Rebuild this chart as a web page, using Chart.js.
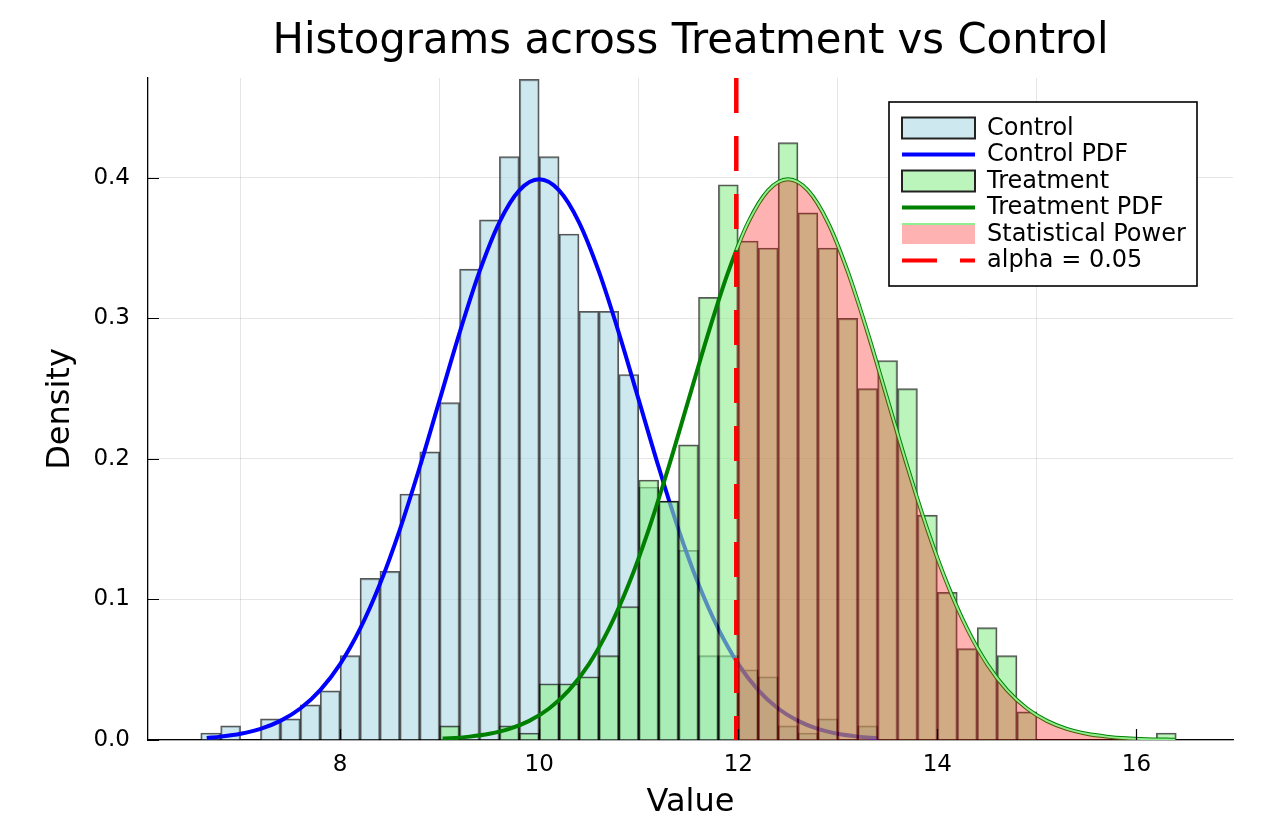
<!DOCTYPE html>
<html>
<head>
<meta charset="utf-8">
<script src="https://cdn.jsdelivr.net/npm/chart.js@4.4.1/dist/chart.umd.min.js"></script>
<style>
  html, body { margin: 0; padding: 0; background: #fff; }
  #wrap { width: 1270px; height: 834px; }
</style>
</head>
<body>
<div id="wrap"><canvas id="c" width="1270" height="834"></canvas></div>
<script>
// ---- data ----
const controlBinCenters = [6.7, 6.9, 7.1, 7.3, 7.5, 7.7, 7.9, 8.1, 8.3, 8.5, 8.7, 8.9, 9.1, 9.3, 9.5, 9.7, 9.9,
  10.1, 10.3, 10.5, 10.7, 10.9, 11.1, 11.3, 11.5, 11.7, 11.9, 12.1, 12.3, 12.5, 12.7, 12.9, 13.1, 13.3];
const controlDensity = [0.005, 0.01, 0, 0.015, 0.015, 0.025, 0.035, 0.06, 0.115, 0.12, 0.175, 0.205, 0.24, 0.335, 0.37, 0.415, 0.47,
  0.415, 0.36, 0.305, 0.305, 0.26, 0.18, 0.17, 0.135, 0.06, 0.06, 0.05, 0.045, 0.01, 0.005, 0.015, 0, 0.01];

const treatmentBinCenters = [9.1, 9.3, 9.5, 9.7, 9.9, 10.1, 10.3, 10.5, 10.7, 10.9, 11.1, 11.3, 11.5, 11.7, 11.9,
  12.1, 12.3, 12.5, 12.7, 12.9, 13.1, 13.3, 13.5, 13.7, 13.9, 14.1, 14.3, 14.5, 14.7, 14.9,
  15.1, 15.3, 15.5, 15.7, 15.9, 16.1, 16.3];
const treatmentDensity = [0.01, 0, 0, 0.01, 0.005, 0.04, 0.04, 0.045, 0.06, 0.095, 0.185, 0.17, 0.21, 0.315, 0.395,
  0.355, 0.35, 0.425, 0.375, 0.35, 0.30, 0.25, 0.27, 0.25, 0.16, 0.105, 0.065, 0.08, 0.06, 0.02,
  0, 0, 0, 0, 0, 0, 0.005];

const controlPdfX = [6.66, 6.8, 7.0, 7.2, 7.4, 7.6, 7.8, 8.0, 8.2, 8.4, 8.6, 8.8, 9.0, 9.2, 9.4, 9.6, 9.8, 10.0,
  10.2, 10.4, 10.6, 10.8, 11.0, 11.2, 11.4, 11.6, 11.8, 12.0, 12.2, 12.4, 12.6, 12.8, 13.0, 13.2, 13.4];
const controlPdfY = [0.0015, 0.0024, 0.0044, 0.0079, 0.0136, 0.0224, 0.0355, 0.0540, 0.0790, 0.1109, 0.1497, 0.1942,
  0.2420, 0.2897, 0.3332, 0.3683, 0.3910, 0.3989, 0.3910, 0.3683, 0.3332, 0.2897, 0.2420, 0.1942, 0.1497,
  0.1109, 0.0790, 0.0540, 0.0355, 0.0224, 0.0136, 0.0079, 0.0044, 0.0024, 0.0012];

const treatmentPdfX = [9.03, 9.1, 9.3, 9.5, 9.7, 9.9, 10.1, 10.3, 10.5, 10.7, 10.9, 11.1, 11.3, 11.5, 11.7, 11.9,
  12.1, 12.3, 12.5, 12.7, 12.9, 13.1, 13.3, 13.5, 13.7, 13.9, 14.1, 14.3, 14.5, 14.7, 14.9,
  15.1, 15.3, 15.5, 15.7, 15.9, 16.1, 16.3, 16.39];
const treatmentPdfY = [0.0010, 0.0012, 0.0024, 0.0044, 0.0079, 0.0136, 0.0224, 0.0355, 0.0540, 0.0790, 0.1109,
  0.1497, 0.1942, 0.2420, 0.2897, 0.3332, 0.3683, 0.3910, 0.3989, 0.3910, 0.3683, 0.3332, 0.2897, 0.2420,
  0.1942, 0.1497, 0.1109, 0.0790, 0.0540, 0.0355, 0.0224, 0.0136, 0.0079, 0.0044, 0.0024, 0.0012, 0.0006, 0.0003, 0.0002];

const powerX = [11.98, 12.1, 12.3, 12.5, 12.7, 12.9, 13.1, 13.3, 13.5, 13.7, 13.9, 14.1, 14.3, 14.5, 14.7, 14.9,
  15.1, 15.3, 15.5, 15.7, 15.9, 16.1, 16.3, 16.39];
const powerY = [0.3485, 0.3683, 0.3910, 0.3989, 0.3910, 0.3683, 0.3332, 0.2897, 0.2420, 0.1942, 0.1497, 0.1109,
  0.0790, 0.0540, 0.0355, 0.0224, 0.0136, 0.0079, 0.0044, 0.0024, 0.0012, 0.0006, 0.0003, 0.0002];

const alphaCritical = 11.98;
const alphaLineTop = 0.471;
const xTickValues = [8, 10, 12, 14, 16];
const yTickValues = [0, 0.1, 0.2, 0.3, 0.4];
const seriesLabels = ['Control', 'Control PDF', 'Treatment', 'Treatment PDF', 'Statistical Power', 'alpha = 0.05'];
const titleText = 'Histograms across Treatment vs Control';
const xLabel = 'Value';
const yLabel = 'Density';

// ---- styling ----
const FONT = "'DejaVu Sans', 'Liberation Sans', sans-serif";
const C = {
  controlFill: 'rgba(173,216,230,0.6)',
  treatFill: 'rgba(144,238,144,0.6)',
  barEdge: 'rgba(0,0,0,0.66)',
  blue: '#0000ff',
  green: '#008000',
  powerFill: 'rgba(255,0,0,0.3)',
  powerLine: '#90ee90',
  red: '#ff0000'
};

const zip = (xs, ys) => xs.map((x, i) => ({ x: x, y: ys[i] }));

Chart.defaults.font.family = FONT;
Chart.defaults.color = '#000';

const innerTicks = {
  id: 'innerTicks',
  afterDatasetsDraw(chart) {
    const { ctx, chartArea: a, scales: { x, y } } = chart;
    ctx.save();
    ctx.strokeStyle = '#000';
    ctx.lineWidth = 1.2;
    ctx.beginPath();
    yTickValues.forEach(v => {
      const py = Math.round(y.getPixelForValue(v)) + 0.5;
      ctx.moveTo(a.left, py); ctx.lineTo(a.left + 11, py);
    });
    xTickValues.forEach(v => {
      const px = Math.round(x.getPixelForValue(v)) + 0.5;
      ctx.moveTo(px, a.bottom); ctx.lineTo(px, a.bottom - 11);
    });
    ctx.stroke();
    ctx.restore();
  }
};

const boxLegend = {
  id: 'boxLegend',
  afterDraw(chart) {
    const ctx = chart.ctx;
    const bx = 889, by = 102, bw = 308, bh = 184;
    ctx.save();
    ctx.fillStyle = '#fff';
    ctx.fillRect(bx, by, bw, bh);
    ctx.strokeStyle = '#000';
    ctx.lineWidth = 1.6;
    ctx.strokeRect(bx, by, bw, bh);
    const gx0 = 902, gx1 = 975, tx = 987;
    const rowY = i => 128 + i * 26.5;
    ctx.font = '24px ' + FONT;
    ctx.textBaseline = 'middle';
    ctx.textAlign = 'left';
    seriesLabels.forEach((lab, i) => {
      const cy = rowY(i);
      ctx.save();
      if (i === 0 || i === 2) {
        ctx.fillStyle = i === 0 ? C.controlFill : C.treatFill;
        ctx.fillRect(gx0, cy - 10.5, gx1 - gx0, 21);
        ctx.strokeStyle = '#222';
        ctx.lineWidth = 2;
        ctx.strokeRect(gx0, cy - 10.5, gx1 - gx0, 21);
      } else if (i === 1 || i === 3) {
        ctx.strokeStyle = i === 1 ? C.blue : C.green;
        ctx.lineWidth = 4;
        ctx.beginPath(); ctx.moveTo(gx0, cy); ctx.lineTo(gx1, cy); ctx.stroke();
      } else if (i === 4) {
        ctx.fillStyle = C.powerFill;
        ctx.fillRect(gx0, cy - 10, gx1 - gx0, 20);
        ctx.strokeStyle = C.powerLine;
        ctx.lineWidth = 2;
        ctx.beginPath(); ctx.moveTo(gx0, cy - 10); ctx.lineTo(gx1, cy - 10); ctx.stroke();
      } else {
        ctx.strokeStyle = C.red;
        ctx.lineWidth = 4;
        ctx.setLineDash([35, 23]);
        ctx.beginPath(); ctx.moveTo(gx0, cy); ctx.lineTo(gx1, cy); ctx.stroke();
      }
      ctx.restore();
      ctx.fillStyle = '#000';
      ctx.fillText(lab, tx, cy + 0.5);
    });
    ctx.restore();
  }
};

new Chart(document.getElementById('c'), {
  type: 'bar',
  data: {
    datasets: [
      {
        type: 'bar', label: seriesLabels[0], data: zip(controlBinCenters, controlDensity),
        backgroundColor: C.controlFill, borderColor: C.barEdge, borderWidth: 1.5,
        barPercentage: 1, categoryPercentage: 1, grouped: false, order: 6
      },
      {
        type: 'line', label: seriesLabels[1], data: zip(controlPdfX, controlPdfY),
        borderColor: C.blue, borderWidth: 4, pointRadius: 0, fill: false,
        cubicInterpolationMode: 'monotone', order: 5
      },
      {
        type: 'bar', label: seriesLabels[2], data: zip(treatmentBinCenters, treatmentDensity),
        backgroundColor: C.treatFill, borderColor: C.barEdge, borderWidth: 1.5,
        barPercentage: 1, categoryPercentage: 1, grouped: false, order: 4
      },
      {
        type: 'line', label: seriesLabels[3], data: zip(treatmentPdfX, treatmentPdfY),
        borderColor: C.green, borderWidth: 4, pointRadius: 0, fill: false,
        cubicInterpolationMode: 'monotone', order: 3
      },
      {
        type: 'line', label: seriesLabels[4], data: zip(powerX, powerY),
        borderColor: C.powerLine, borderWidth: 2, backgroundColor: C.powerFill,
        pointRadius: 0, fill: 'origin', cubicInterpolationMode: 'monotone', order: 2
      },
      {
        type: 'line', label: seriesLabels[5],
        data: [{ x: alphaCritical, y: alphaLineTop }, { x: alphaCritical, y: 0 }],
        borderColor: C.red, borderWidth: 4.5, borderDash: [35, 23], pointRadius: 0, fill: false, order: 1
      }
    ]
  },
  options: {
    responsive: false,
    animation: false,
    devicePixelRatio: 1,
    layout: { padding: { left: 0, right: 37, top: 0, bottom: 0 } },
    plugins: {
      legend: { display: false },
      tooltip: { enabled: false },
      title: {
        display: true, text: titleText, fullSize: false, color: '#000',
        font: { family: FONT, size: 41.8, weight: 'normal', lineHeight: 1.2 },
        padding: { top: 17, bottom: 10.8 }
      }
    },
    scales: {
      x: {
        type: 'linear', min: 6.07, max: 16.97, offset: false,
        afterFit: s => { s.height = 94; },
        afterBuildTicks: s => { s.ticks = xTickValues.map(v => ({ value: v })); },
        grid: { color: 'rgba(0,0,0,0.1)', lineWidth: 1, drawTicks: false },
        border: { color: '#000', width: 1.3 },
        ticks: { font: { family: FONT, size: 23 }, color: '#000', padding: 11, maxRotation: 0,
          callback: v => String(v) },
        title: { display: true, text: xLabel, color: '#000',
          font: { family: FONT, size: 32, lineHeight: 1.2 }, padding: { top: 0, bottom: 11.8 } }
      },
      y: {
        type: 'linear', min: 0, max: 0.471,
        afterFit: s => { s.width = 148; },
        afterBuildTicks: s => { s.ticks = yTickValues.map(v => ({ value: v })); },
        grid: { color: 'rgba(0,0,0,0.1)', lineWidth: 1, drawTicks: false },
        border: { color: '#000', width: 1.3 },
        ticks: { font: { family: FONT, size: 23 }, color: '#000', padding: 18,
          callback: v => Number(v).toFixed(1) },
        title: { display: true, text: yLabel, color: '#000',
          font: { family: FONT, size: 32, lineHeight: 1.2 }, padding: { top: 41.4, bottom: 0 } }
      }
    }
  },
  plugins: [innerTicks, boxLegend]
});
</script>
</body>
</html>
